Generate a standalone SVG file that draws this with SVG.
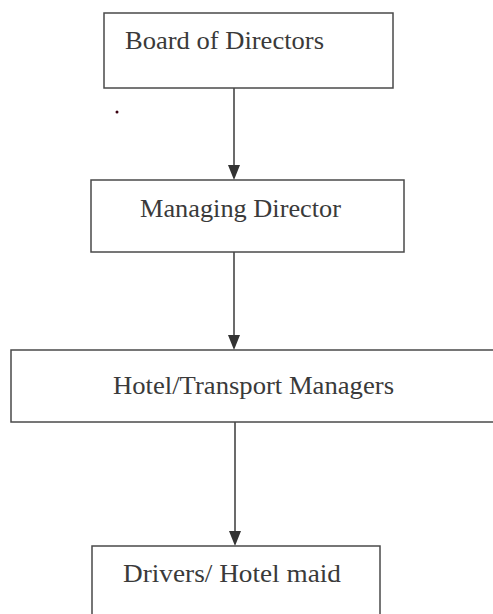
<svg xmlns="http://www.w3.org/2000/svg" width="493" height="614" viewBox="0 0 493 614">
<style>
.box{fill:#fff;stroke:#4a4a4a;stroke-width:1.5}
.lbl{font-family:"Liberation Serif","Times New Roman",serif;font-size:25px;fill:#3a3a3a}
.conn{stroke:#3a3a3a;stroke-width:1.5;fill:none}
.head{fill:#333}
</style>
<rect width="493" height="614" fill="#fff"/>
<g id="connectors">
<line class="conn" x1="234" y1="88" x2="234" y2="166"/>
<path class="head" d="M228,165 L240,165 L234,180 Z"/>
<line class="conn" x1="234" y1="252" x2="234" y2="336"/>
<path class="head" d="M228,335 L240,335 L234,350 Z"/>
<line class="conn" x1="235" y1="422" x2="235" y2="532"/>
<path class="head" d="M229,531 L241,531 L235,546 Z"/>
</g>
<g id="node-board">
<rect class="box" x="104" y="13" width="289" height="75"/>
<text class="lbl" x="125" y="49" textLength="199" lengthAdjust="spacingAndGlyphs">Board of Directors</text>
</g>
<g id="node-md">
<rect class="box" x="91" y="180" width="313" height="72"/>
<text class="lbl" x="140" y="217" textLength="201" lengthAdjust="spacingAndGlyphs">Managing Director</text>
</g>
<g id="node-managers">
<rect class="box" x="11" y="350" width="490" height="72"/>
<text class="lbl" x="113" y="394" textLength="281" lengthAdjust="spacingAndGlyphs">Hotel/Transport Managers</text>
</g>
<g id="node-staff">
<rect class="box" x="92" y="546" width="288" height="80"/>
<text class="lbl" x="123" y="582" textLength="218" lengthAdjust="spacingAndGlyphs">Drivers/ Hotel maid</text>
</g>
<circle cx="117" cy="112" r="1.5" fill="#3a0010"/>
</svg>
